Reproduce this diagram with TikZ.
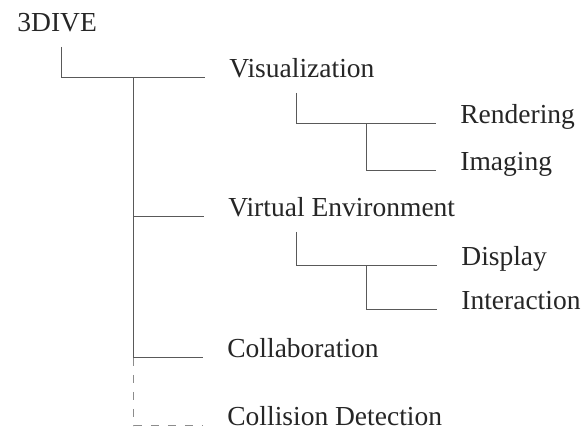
\documentclass[tikz,border=0pt]{standalone}
\usepackage{fontspec}
\setmainfont{Liberation Serif}
\usetikzlibrary{positioning}

\begin{document}
\begin{tikzpicture}[
    x=0.5pt, y=-0.5pt,
    item/.style={anchor=base west, inner xsep=12pt, inner ysep=1pt,
                 text=black!85, font=\fontsize{13.75}{16}\selectfont},
    parent/.style={item, inner ysep=7pt},
    branch/.style={draw=black!65, line width=0.5pt},
    planned/.style={branch, draw=black!45, dash pattern=on 4pt off 4.5pt}
]
    \fill[white] (0,0) rectangle (586,431);
    \useasboundingbox (0,0) rectangle (586,431);

    % top level
    \node [parent, inner xsep=0pt] (root) at (17,32) {3DIVE};
    \node [parent] (vis)  at (205,78)  {Visualization};
    \node [parent] (venv) at (204,217) {Virtual Environment};
    \node [item] (collab) at (203,358) {Collaboration};
    \node [item] (coll)   at (203,426) {Collision Detection};

    % second level
    \node [item] (rend)  at (436,124) {Rendering};
    \node [item] (imag)  at (436,171) {Imaging};
    \node [item] (disp)  at (437,266) {Display};
    \node [item] (inter) at (437,310) {Interaction};

    % trunk of the tree
    \draw [branch] ([xshift=22.5pt]root.south west) |- (vis.base west);
    \coordinate (trunk) at ([xshift=-35.5pt]vis.base west);
    \draw [branch] (trunk) |- (venv.base west);
    \draw [branch] (trunk) |- (collab.base west);
    \draw [planned] (trunk |- collab.base) |- (coll.base west);

    % sub branches
    \draw [branch] ([xshift=46pt]vis.south west) |- (rend.base west);
    \draw [branch] ([xshift=-34.5pt]rend.base west) |- (imag.base west);
    \draw [branch] ([xshift=46.5pt]venv.south west) |- (disp.base west);
    \draw [branch] ([xshift=-35pt]disp.base west) |- (inter.base west);
\end{tikzpicture}
\end{document}
